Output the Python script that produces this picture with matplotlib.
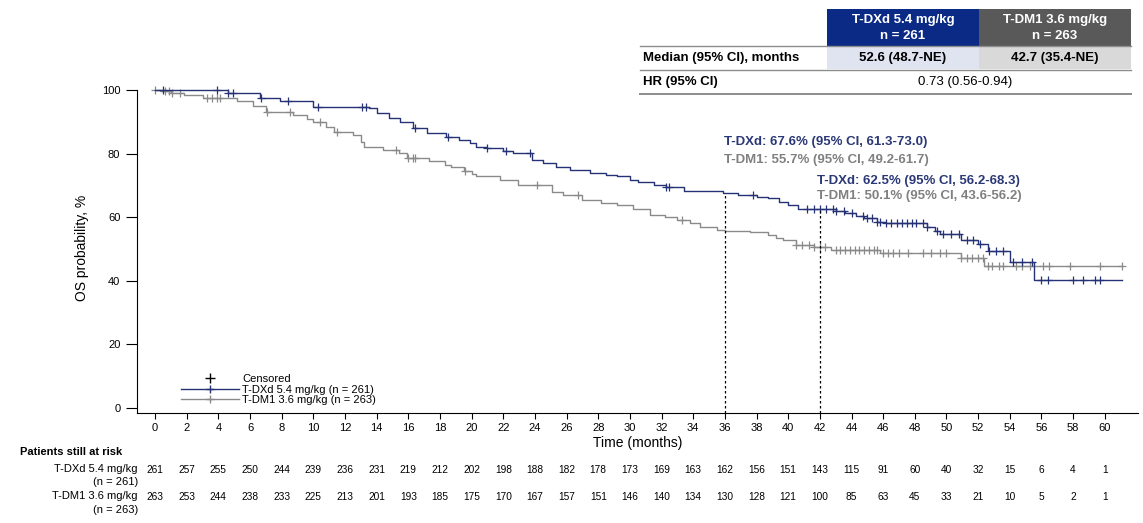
import numpy as np
import matplotlib.pyplot as plt
import matplotlib.transforms as mtransforms
from matplotlib.lines import Line2D
from matplotlib.patches import Rectangle

plt.rcParams['font.family'] = ['Liberation Sans', 'DejaVu Sans']

# --- KM steps (months, OS %) ---
dxd_t = [0, 4.6, 6.6, 7.9, 10.0, 13.5, 14.0, 14.8, 15.5, 16.3, 17.2, 18.4, 19.2, 19.9,
         20.3, 21.0, 22.0, 22.6, 23.8, 24.5, 25.3, 26.2, 27.5, 28.5, 29.2, 30.0, 30.5,
         31.5, 32.3, 33.4, 35.9, 36.8, 38.0, 38.7, 39.4, 40.0, 40.6, 43.0, 43.6, 44.3,
         44.8, 45.6, 46.2, 48.8, 49.3, 49.6, 50.9, 52.0, 52.6, 54.0, 55.5]
dxd_s = [100, 99.1, 97.5, 96.6, 94.7, 94.2, 92.8, 91.2, 89.8, 88.0, 86.6, 85.3, 84.3, 83.3,
         82.2, 81.7, 80.8, 80.2, 78.0, 77.0, 75.8, 74.8, 74.0, 73.3, 72.8, 71.8, 71.2,
         70.2, 69.6, 68.2, 67.6, 67.0, 66.4, 66.0, 64.8, 63.8, 62.5, 62.0, 61.3, 60.5,
         59.8, 58.6, 58.0, 57.0, 55.6, 54.8, 52.8, 51.5, 49.2, 46.0, 40.2]
dxd_cens = [0.5, 3.9, 4.6, 4.9, 6.7, 8.4, 10.3, 13.1, 13.3, 16.4, 18.5, 21.0, 22.2, 23.7,
            32.3, 32.5, 37.8, 41.2, 41.6, 42.0, 42.4, 42.8, 43.0, 43.5, 44.0, 44.7, 45.0,
            45.3, 45.6, 45.8, 46.2, 46.5, 46.9, 47.2, 47.5, 47.8, 48.1, 48.5, 48.8, 49.4,
            49.8, 50.3, 50.8, 51.3, 51.7, 52.1, 52.7, 53.1, 53.6, 54.2, 54.8, 55.4, 56.0,
            56.4, 58.0, 58.6, 59.4, 59.7]

dm1_t = [0, 0.3, 1.0, 1.8, 3.0, 5.2, 6.2, 7.0, 8.7, 9.6, 10.0, 10.8, 11.3, 12.5, 13.0,
         13.2, 14.4, 15.4, 15.9, 17.3, 18.3, 18.7, 19.5, 20.0, 20.3, 21.8, 22.9, 25.1,
         25.8, 27.0, 28.2, 29.2, 30.2, 31.3, 32.2, 33.0, 33.8, 34.4, 35.5, 36.0, 37.6,
         38.7, 39.2, 39.7, 40.5, 41.6, 42.7, 45.8, 50.9, 52.4]
dm1_s = [100, 99.8, 99.0, 98.5, 97.4, 96.6, 94.8, 93.2, 92.1, 91.0, 90.0, 88.5, 86.9, 85.8,
         83.5, 82.2, 81.1, 80.3, 78.5, 77.5, 76.5, 75.9, 74.4, 73.5, 72.8, 71.7, 70.1,
         68.0, 67.0, 65.4, 64.6, 63.8, 62.5, 60.7, 60.0, 59.1, 58.2, 57.0, 56.0, 55.7,
         55.3, 54.4, 53.5, 52.8, 51.3, 50.5, 49.7, 48.7, 47.1, 44.5]
dm1_cens = [0.0, 0.6, 0.9, 1.1, 1.6, 3.3, 3.6, 3.9, 4.1, 7.1, 8.5, 10.4, 11.5, 15.2, 16.0,
            16.3, 16.4, 19.6, 24.1, 26.7, 33.3, 40.5, 40.9, 41.3, 41.6, 42.0, 42.3, 43.0,
            43.3, 43.6, 43.9, 44.2, 44.5, 44.8, 45.1, 45.4, 45.6, 46.0, 46.3, 46.6, 47.0,
            47.6, 48.5, 49.0, 49.6, 50.0, 50.9, 51.3, 51.6, 52.0, 52.3, 52.6, 52.9, 53.3,
            53.6, 54.4, 54.8, 55.3, 56.1, 56.5, 57.8, 59.7, 61.1]
t_end = 61.1

risk_months = list(range(0, 62, 2))
risk_dxd = [261, 257, 255, 250, 244, 239, 236, 231, 219, 212, 202, 198, 188, 182, 178, 173,
            169, 163, 162, 156, 151, 143, 115, 91, 60, 40, 32, 15, 6, 4, 1]
risk_dm1 = [263, 253, 244, 238, 233, 225, 213, 201, 193, 185, 175, 170, 167, 157, 151, 146,
            140, 134, 130, 128, 121, 100, 85, 63, 45, 33, 21, 10, 5, 2, 1]

landmarks = [36, 42]
lm_dxd = ['T-DXd: 67.6% (95% CI, 61.3-73.0)', 'T-DXd: 62.5% (95% CI, 56.2-68.3)']
lm_dm1 = ['T-DM1: 55.7% (95% CI, 49.2-61.7)', 'T-DM1: 50.1% (95% CI, 43.6-56.2)']

navy = '#253275'
gray = '#8a8a8a'
hdr_navy = '#0b2a86'
hdr_gray = '#595959'

W, H = 1143, 523
fig = plt.figure(figsize=(W / 100, H / 100), dpi=100)
ax = fig.add_axes([137 / W, 110 / H, (1138 - 137) / W, (413 - 83.6) / H])


def km_at(ts, ss, x):
    i = np.searchsorted(ts, x, side='right') - 1
    return np.asarray(ss)[i]


for ts, ss, cens, col in [(dm1_t, dm1_s, dm1_cens, gray), (dxd_t, dxd_s, dxd_cens, navy)]:
    ax.step(ts + [t_end], ss + [ss[-1]], where='post', color=col, lw=1.0, clip_on=False)
    ax.plot(cens, km_at(ts, ss, cens), ls='none', marker='+', ms=6, mew=0.9, color=col,
            clip_on=False)

ax.set_xlim(-1.14, 62.1)
ax.set_ylim(-1.6, 102)
ax.spines['top'].set_visible(False)
ax.spines['right'].set_visible(False)
ax.spines['left'].set_bounds(-1.6, 100)
ax.set_xticks(risk_months)
ax.set_yticks(range(0, 101, 20))
ax.tick_params(axis='x', length=4, labelsize=8, pad=3)
ax.tick_params(axis='y', length=8, labelsize=8, pad=4)
ax.set_xlabel('Time (months)', fontsize=10, labelpad=2)
ax.set_ylabel('OS probability, %', fontsize=10, labelpad=9)

# landmark lines
for m in landmarks:
    ax.vlines(m, -1.6, km_at(dxd_t, dxd_s, m), colors='k', linestyles=(0, (2, 2)), lw=0.9)

ann_pos = [(724, 142, 160), (817, 181, 196)]
for (px, py1, py2), a1, a2 in zip(ann_pos, lm_dxd, lm_dm1):
    fig.text(px / W, 1 - py1 / H, a1, color='#2b3877', fontsize=9.5, fontweight='bold',
             va='center', ha='left')
    fig.text(px / W, 1 - py2 / H, a2, color='#808080', fontsize=9.5, fontweight='bold',
             va='center', ha='left')

# legend
handles = [Line2D([], [], ls='none', marker='+', color='k', ms=7, mew=1),
           Line2D([], [], color=navy, marker='+', ms=6, lw=1),
           Line2D([], [], color=gray, marker='+', ms=6, lw=1)]
ax.legend(handles, ['Censored', 'T-DXd 5.4 mg/kg (n = 261)', 'T-DM1 3.6 mg/kg (n = 263)'],
          loc='upper left', bbox_to_anchor=(181 / W, 1 - 374 / H), bbox_transform=fig.transFigure,
          frameon=False, fontsize=8, handlelength=5.2, handletextpad=0.3, labelspacing=0.05,
          borderpad=0, borderaxespad=0)

# risk table
trans = mtransforms.blended_transform_factory(ax.transData, fig.transFigure)
for m, a, b in zip(risk_months, risk_dxd, risk_dm1):
    ax.text(m, 1 - 470 / H, str(a), transform=trans, ha='center', va='center', fontsize=7.3)
    ax.text(m, 1 - 497 / H, str(b), transform=trans, ha='center', va='center', fontsize=7.3)

tb = fig.add_axes([0, 0, 1, 1])
tb.set_xlim(0, W)
tb.set_ylim(H, 0)
tb.axis('off')
tb.patch.set_alpha(0)

tb.text(20, 452, 'Patients still at risk', fontsize=8, fontweight='bold', va='center')
tb.text(138, 469, 'T-DXd 5.4 mg/kg', fontsize=8, ha='right', va='center')
tb.text(138, 482, '(n = 261)', fontsize=8, ha='right', va='center')
tb.text(138, 496, 'T-DM1 3.6 mg/kg', fontsize=8, ha='right', va='center')
tb.text(138, 510, '(n = 263)', fontsize=8, ha='right', va='center')

# summary table top right
tb.add_patch(Rectangle((827, 9), 152, 37, color=hdr_navy, lw=0))
tb.add_patch(Rectangle((979, 9), 152, 37, color=hdr_gray, lw=0))
tb.add_patch(Rectangle((827, 47), 152, 22, color='#dfe4f0', lw=0))
tb.add_patch(Rectangle((979, 47), 152, 22, color='#d9d9d9', lw=0))
for yy, lw in [(46, 1.0), (69.5, 1.0), (94, 1.4)]:
    tb.plot([640, 1131], [yy, yy], color='#8c8c8c', lw=lw)

fs = 9.5
tb.text(903, 20, 'T-DXd 5.4 mg/kg', color='white', fontsize=fs, fontweight='bold', ha='center', va='center')
tb.text(903, 36, 'n = 261', color='white', fontsize=fs, fontweight='bold', ha='center', va='center')
tb.text(1055, 20, 'T-DM1 3.6 mg/kg', color='white', fontsize=fs, fontweight='bold', ha='center', va='center')
tb.text(1055, 36, 'n = 263', color='white', fontsize=fs, fontweight='bold', ha='center', va='center')
tb.text(643, 58, 'Median (95% CI), months', fontsize=fs, fontweight='bold', va='center')
tb.text(903, 58, '52.6 (48.7-NE)', fontsize=fs, fontweight='bold', ha='center', va='center')
tb.text(1055, 58, '42.7 (35.4-NE)', fontsize=fs, fontweight='bold', ha='center', va='center')
tb.text(643, 82, 'HR (95% CI)', fontsize=fs, fontweight='bold', va='center')
tb.text(965, 82, '0.73 (0.56-0.94)', fontsize=fs, ha='center', va='center')

fig.savefig('out.png', dpi=100)
